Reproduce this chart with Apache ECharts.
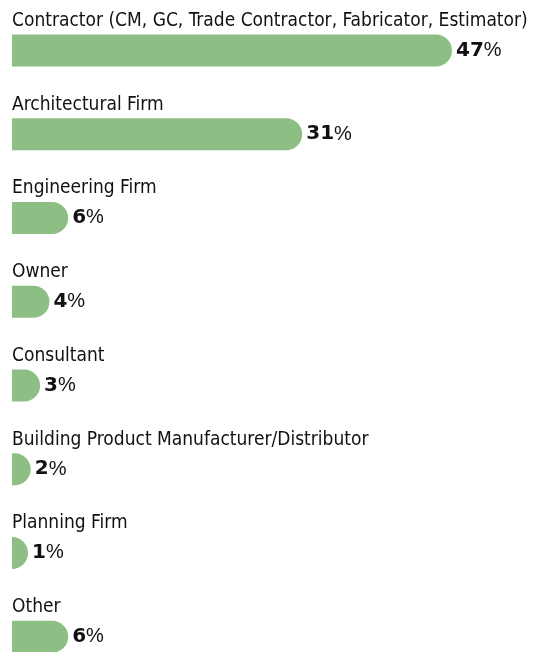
<!DOCTYPE html>
<html>
<head>
<meta charset="utf-8">
<script src="https://cdn.jsdelivr.net/npm/echarts@6/dist/echarts.min.js"></script>
<style>
  html, body { margin: 0; padding: 0; background: #fff; }
  #main { width: 539px; height: 652px; }
</style>
</head>
<body>
<div id="main"></div>
<script>
// respondent type shares (%)
var categories = [
  'Contractor (CM, GC, Trade Contractor, Fabricator, Estimator)',
  'Architectural Firm',
  'Engineering Firm',
  'Owner',
  'Consultant',
  'Building Product Manufacturer/Distributor',
  'Planning Firm',
  'Other'
]
var values = [47, 31, 6, 4, 3, 2, 1, 6]

var myChart = echarts.init(document.getElementById('main'))
myChart.setOption({
  animation: false,
  grid: { left: 12, right: 87, top: 8.6, height: 670, outerBoundsMode: 'none', containLabel: false },
  xAxis: { type: 'value', min: 0, max: 47, show: false },
  yAxis: {
    type: 'category',
    data: categories,
    inverse: true,
    axisLine: { show: false },
    axisTick: { show: false },
    axisLabel: {
      inside: true,
      margin: 0,
      align: 'left',
      verticalAlign: 'bottom',
      padding: [0, 0, 20, 0],
      color: '#111',
      fontSize: 19,
      fontFamily: 'Liberation Sans Narrow, DejaVu Sans Condensed, sans-serif'
    },
    z: 10
  },
  series: [{
    type: 'bar',
    data: values,
    barWidth: 32,
    barMinHeight: 16,
    itemStyle: { color: '#8dbe83', borderRadius: [0, 16, 16, 0] },
    label: {
      show: true,
      position: 'right',
      distance: 4,
      formatter: function (p) { return '{b|' + p.value + '}{p|%}' },
      rich: {
        b: { fontSize: 20, fontWeight: 'bold', fontFamily: 'DejaVu Sans', color: '#111' },
        p: { fontSize: 20, fontFamily: 'Liberation Sans', color: '#111' }
      }
    }
  }]
})
</script>
</body>
</html>
